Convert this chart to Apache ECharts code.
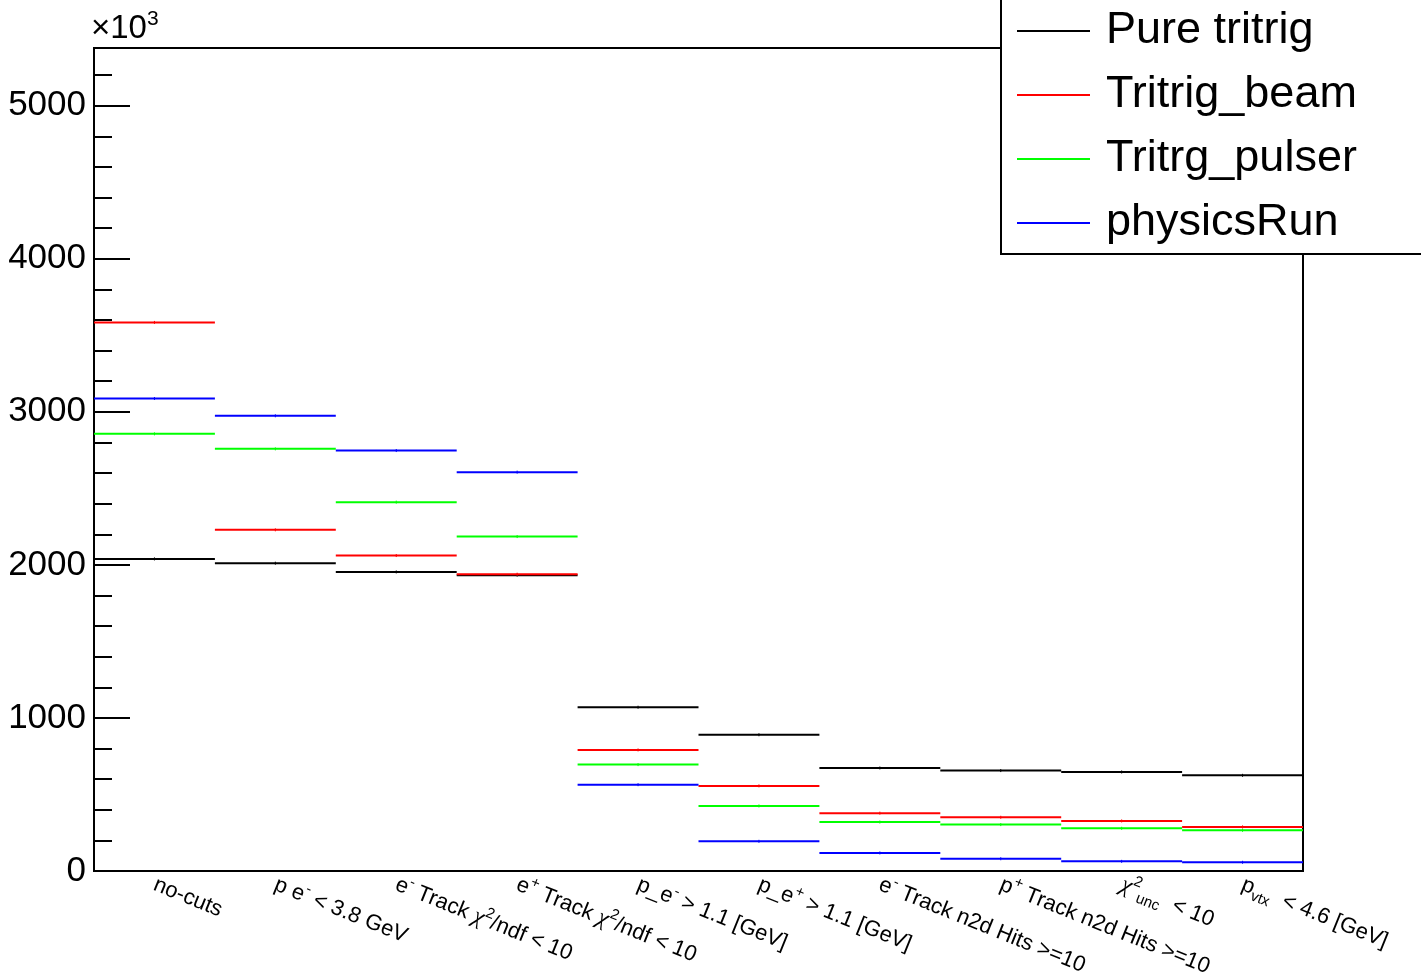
<!DOCTYPE html>
<html>
<head>
<meta charset="utf-8">
<script src="https://cdn.jsdelivr.net/npm/echarts@6/dist/echarts.min.js"></script>
<style>html,body{margin:0;padding:0;background:#fff;}#c{width:1421px;height:975px;}</style>
</head>
<body>
<div id="c"></div>
<script>
// Categories (cuts), rich-text formatted
const categories = [
  "no-cuts",
  "p e{sup|-} < 3.8 GeV",
  "e{sup|-} Track {chi|\u03c7}{sup|2}/ndf < 10",
  "e{sup|+} Track {chi|\u03c7}{sup|2}/ndf < 10",
  "p_e{sup|-} > 1.1 [GeV]",
  "p_e{sup|+} > 1.1 [GeV]",
  "e{sup|-} Track n2d Hits >=10",
  "p{sup|+} Track n2d Hits >=10",
  "{chi|\u03c7}{sup|2}{sub|unc}  < 10",
  "p{sub|vtx}  < 4.6 [GeV]"
];
// Values in units of 10^3
const pureTritrig    = [2039, 2011, 1954, 1933, 1070, 890, 673, 656, 647, 625];
const tritrigBeam    = [3584, 2229, 2061, 1939, 791, 556, 378, 351, 327, 288];
const tritrgPulser   = [2856, 2758, 2410, 2185, 695, 425, 320, 303, 279, 266];
const physicsRun     = [3087, 2974, 2747, 2606, 564, 194, 118, 80, 63, 57];
const seriesNames = ["Pure tritrig", "Tritrig_beam", "Tritrg_pulser", "physicsRun"];
const seriesColors = ["#000000", "#ff0000", "#00ff00", "#0000ff"];
const yMajorTicks = [0, 1000, 2000, 3000, 4000, 5000];

const allSeries = [pureTritrig, tritrigBeam, tritrgPulser, physicsRun];

const chart = echarts.init(document.getElementById('c'), null, {renderer: 'canvas'});

function makeSeries(name, vals, color) {
  return {
    name: name,
    type: 'custom',
    itemStyle: {color: color},
    encode: {x: 0, y: 1},
    data: vals.map((v, i) => [i, v]),
    z: 3,
    renderItem: function (params, api) {
      const c = api.coord([api.value(0), api.value(1)]);
      const w = api.size([1, 0])[0];
      return {
        type: 'group',
        children: [
          {type: 'line', shape: {x1: c[0] - w / 2, y1: c[1], x2: c[0] + w / 2, y2: c[1]},
           style: {stroke: color, lineWidth: 2}},
          {type: 'line', shape: {x1: c[0], y1: c[1] - 1.5, x2: c[0], y2: c[1] + 1.5},
           style: {stroke: color, lineWidth: 1}}
        ]
      };
    }
  };
}

const yMax = 5377;
const font = 'Liberation Sans, Arial, sans-serif';

const option = {
  animation: false,
  backgroundColor: '#fff',
  title: {
    text: '{a|\u00d710}{s|3}',
    left: 91,
    top: 9,
    padding: 0,
    textStyle: {
      fontSize: 33, fontFamily: font, color: '#000', fontWeight: 'normal', lineHeight: 40,
      rich: {
        a: {fontSize: 33, fontFamily: font, color: '#000', lineHeight: 40},
        s: {fontSize: 21, fontFamily: font, color: '#000', verticalAlign: 'top', lineHeight: 21}
      }
    }
  },
  grid: {left: 94, right: 118, top: 48, bottom: 104, show: true, borderColor: '#000', borderWidth: 2,
         backgroundColor: 'transparent', containLabel: false, outerBoundsMode: 'none'},
  xAxis: {
    type: 'category',
    data: categories,
    boundaryGap: true,
    axisLine: {lineStyle: {color: '#000', width: 2}},
    axisTick: {inside: true, length: 24, lineStyle: {color: '#000', width: 2}},
    axisLabel: {
      rotate: -22,
      margin: 13,
      interval: 0,
      color: '#000',
      fontFamily: font,
      fontSize: 22,
      lineHeight: 30,
      rich: {
        sup: {fontSize: 15, fontFamily: font, color: '#000', verticalAlign: 'top', lineHeight: 30},
        sub: {fontSize: 15, fontFamily: font, color: '#000', verticalAlign: 'bottom', lineHeight: 30},
        chi: {fontSize: 24, fontFamily: 'Liberation Serif, serif', fontStyle: 'italic', color: '#000', lineHeight: 30}
      }
    },
    splitLine: {show: false}
  },
  yAxis: [
    {
      type: 'value', min: 0, max: yMax, interval: 1000,
      axisLine: {show: true, lineStyle: {color: '#000', width: 2}},
      axisTick: {show: true, inside: true, length: 36, lineStyle: {color: '#000', width: 2}},
      axisLabel: {color: '#000', fontSize: 35, fontFamily: font, margin: 8,
        formatter: v => (yMajorTicks.indexOf(v) >= 0 ? String(v) : '')},
      splitLine: {show: false}
    },
    {
      type: 'value', min: 0, max: yMax, interval: 200, position: 'left',
      axisLine: {show: false},
      axisTick: {show: true, inside: true, length: 18, lineStyle: {color: '#000', width: 2}},
      axisLabel: {show: false},
      splitLine: {show: false}
    }
  ],
  legend: {
    orient: 'vertical',
    left: 1017,
    top: 6,
    z: 60,
    padding: 0,
    itemGap: 14,
    itemWidth: 73,
    itemHeight: 2,
    icon: 'rect',
    selectedMode: false,
    textStyle: {fontSize: 45, fontFamily: font, color: '#000', lineHeight: 50, padding: [0, 0, 0, 11]},
    data: seriesNames
  },
  graphic: [
    {type: 'rect', z: 50, shape: {x: 1001, y: -5, width: 440, height: 259},
     style: {fill: '#fff', stroke: '#000', lineWidth: 2}}
  ],
  series: seriesNames.map((n, i) => makeSeries(n, allSeries[i], seriesColors[i]))
};
chart.setOption(option);
</script>
</body>
</html>
